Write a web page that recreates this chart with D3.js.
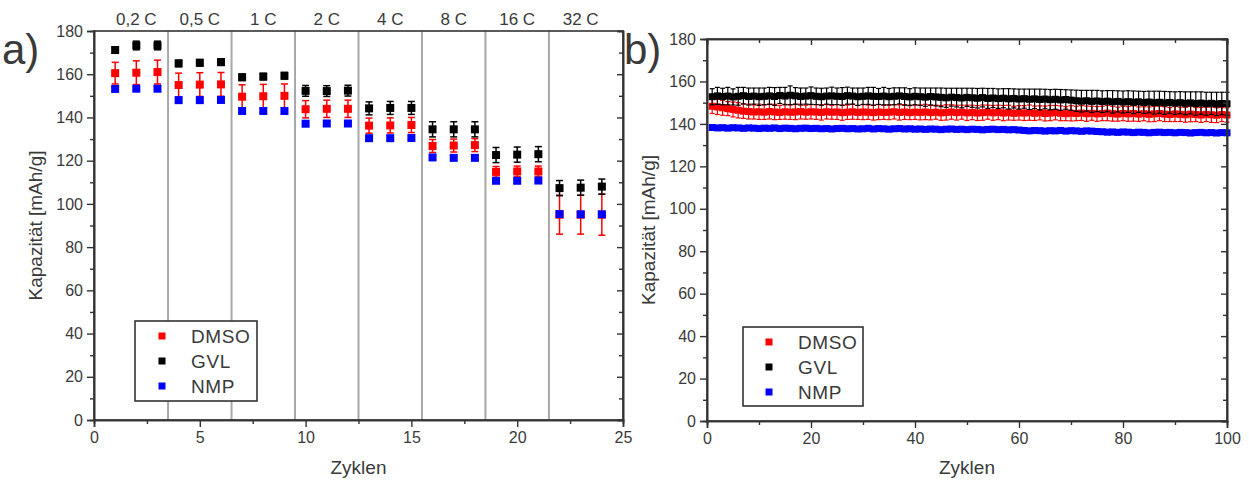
<!DOCTYPE html>
<html>
<head>
<meta charset="utf-8">
<script src="https://cdn.jsdelivr.net/npm/d3@7"></script>
<style>
  body { margin: 0; background: #fff; }
  text { font-family: "Liberation Sans", Arial, sans-serif; fill: #3a3a3a; }
</style>
</head>
<body>
<svg id="chart" width="1249" height="484"></svg>
<script>
// ---------- Panel a: rate capability ----------
const rateCycles = d3.range(1, 25);
const rateLabels = ["0,2 C", "0,5 C", "1 C", "2 C", "4 C", "8 C", "16 C", "32 C"];
const rateDMSO = [160.5, 160.7, 161.0, 155.0, 155.2, 155.3, 149.6, 149.8, 150.0, 143.8, 144.0, 144.0,
                  136.2, 136.3, 136.5, 126.8, 127.0, 127.2, 114.8, 115.0, 115.0, 95.0, 95.0, 95.0];
const rateDMSOErr = [5.0, 5.5, 5.5, 5.5, 5.5, 5.5, 5.5, 5.5, 5.5, 4.0, 4.0, 4.0,
                     3.5, 3.5, 3.5, 3.0, 3.0, 3.0, 2.5, 2.5, 2.5, 9.0, 9.0, 9.5];
const rateGVL = [171.2, 173.3, 173.3, 165.0, 165.3, 165.6, 158.6, 158.9, 159.3, 152.3, 152.2, 152.4,
                 144.2, 144.4, 144.4, 134.5, 134.5, 134.5, 122.6, 122.8, 123.0, 107.3, 107.5, 108.0];
const rateGVLErr = [1.5, 2.0, 2.0, 1.5, 1.5, 1.5, 1.5, 1.5, 1.5, 2.5, 2.5, 2.5,
                    3.0, 3.0, 3.0, 3.5, 3.5, 3.5, 3.5, 3.5, 3.5, 3.5, 3.5, 3.5];
const rateNMP = [153.2, 153.3, 153.3, 148.0, 148.0, 148.1, 143.0, 143.0, 143.0, 137.1, 137.2, 137.2,
                 130.4, 130.4, 130.5, 121.5, 121.3, 121.3, 110.7, 110.7, 110.8, 95.3, 95.2, 95.2];
const rateNMPErr = [1.0, 1.0, 1.0, 1.0, 1.0, 1.0, 1.0, 1.0, 1.0, 1.0, 1.0, 1.0,
                    1.0, 1.0, 1.0, 1.0, 1.0, 1.0, 1.0, 1.0, 1.0, 1.0, 1.0, 1.0];

// ---------- Panel b: long-term cycling ----------
const cycles = d3.range(1, 101);
const cycDMSO = [148.3, 148.0, 147.6, 147.2, 146.8, 146.4, 146.0,
  145.8, 145.6, 145.7, 145.5, 145.8, 145.6, 145.4, 145.7, 145.5, 145.6, 145.8, 145.5, 145.7,
  145.6, 145.4, 145.7, 145.5, 145.6, 145.3, 145.5, 145.7, 145.4, 145.6, 145.5, 145.3, 145.6, 145.4, 145.5, 145.7, 145.4, 145.6, 145.3, 145.5,
  145.4, 145.6, 145.3, 145.5, 145.2, 145.4, 145.6, 145.3, 145.5, 145.2, 145.4, 145.1, 145.3, 145.5, 145.2, 145.4, 145.1, 145.3, 145.0, 145.2,
  145.1, 145.3, 145.0, 145.2, 144.9, 145.1, 145.3, 145.0, 144.8, 145.0, 144.9, 145.1, 144.8, 145.0, 144.7, 144.9, 145.1, 144.8, 144.6, 144.9,
  144.7, 144.9, 144.6, 144.8, 144.5, 144.7, 144.9, 144.6, 144.4, 144.7, 144.5, 144.3, 144.6, 144.4, 144.2, 144.5, 144.3, 144.1, 144.4, 144.2];
const cycDMSOErr = [3.4, 3.6, 3.5, 3.3, 3.5, 3.6, 3.4, 3.5, 3.3, 3.6, 3.4, 3.5, 3.6, 3.3, 3.5, 3.4, 3.6, 3.5, 3.3, 3.4,
  3.5, 3.6, 3.4, 3.3, 3.5, 3.6, 3.4, 3.5, 3.3, 3.6, 3.4, 3.5, 3.6, 3.3, 3.5, 3.4, 3.6, 3.5, 3.3, 3.4,
  3.5, 3.6, 3.4, 3.3, 3.5, 3.6, 3.4, 3.5, 3.3, 3.6, 3.4, 3.5, 3.6, 3.3, 3.5, 3.4, 3.6, 3.5, 3.3, 3.4,
  3.5, 3.6, 3.4, 3.3, 3.5, 3.6, 3.4, 3.5, 3.3, 3.6, 3.4, 3.5, 3.6, 3.3, 3.5, 3.4, 3.6, 3.5, 3.3, 3.4,
  3.5, 3.6, 3.4, 3.3, 3.5, 3.6, 3.4, 3.5, 3.3, 3.6, 3.4, 3.5, 3.6, 3.3, 3.5, 3.4, 3.6, 3.5, 3.3, 3.4];
const cycGVL = [152.8, 153.2, 152.9, 153.1, 152.7, 153.0, 153.3, 152.9, 153.1, 152.8,
  153.0, 153.2, 152.9, 153.4, 153.1, 153.5, 153.2, 152.9, 153.1, 153.3,
  153.0, 152.8, 153.1, 153.2, 153.0, 152.9, 153.3, 153.1, 152.8, 153.0,
  153.2, 153.0, 152.9, 153.1, 152.8, 153.0, 153.2, 152.9, 152.7, 153.0,
  152.8, 152.6, 152.9, 152.7, 152.5, 152.3, 152.6, 152.4, 152.2, 152.5,
  152.3, 152.1, 152.4, 152.0, 152.2, 151.9, 152.1, 151.8, 152.0, 151.7,
  151.9, 151.6, 151.8, 151.5, 151.7, 151.4, 151.6, 151.3, 151.5, 151.2,
  150.9, 150.7, 150.9, 150.6, 150.8, 150.5, 150.7, 150.4, 150.6, 150.3,
  150.5, 150.2, 150.4, 150.1, 150.3, 150.0, 150.2, 149.9, 150.1, 149.8,
  150.0, 149.7, 149.9, 149.6, 149.8, 149.5, 149.7, 149.4, 149.6, 149.5];
const cycGVLErr = [3.8, 4.0, 3.9, 4.1, 3.8, 4.2, 3.9, 4.0, 3.8, 4.1, 3.9, 4.0, 4.2, 3.8, 4.1, 4.4, 3.9, 4.0, 3.8, 4.1,
  3.9, 4.0, 3.8, 4.1, 3.9, 4.2, 4.0, 3.8, 4.1, 3.9, 4.0, 4.2, 3.8, 4.1, 3.9, 4.0, 3.8, 4.1, 3.9, 4.0,
  4.1, 4.3, 4.0, 4.2, 4.4, 4.5, 4.2, 4.4, 4.6, 4.3, 4.5, 4.6, 4.4, 4.7, 4.5, 4.6, 4.5, 4.8, 4.5, 4.7,
  4.5, 4.8, 4.6, 4.9, 4.6, 4.8, 4.7, 4.9, 4.6, 4.8, 5.0, 5.1, 4.9, 5.2, 5.0, 5.1, 5.0, 5.3, 5.0, 5.2,
  5.1, 5.3, 5.0, 5.2, 5.1, 5.4, 5.2, 5.4, 5.1, 5.3, 5.2, 5.4, 5.2, 5.5, 5.3, 5.4, 5.2, 5.5, 5.3, 5.4];
const cycNMP = [138.3, 138.1, 138.2, 138.0, 138.2, 138.1, 137.9, 138.1, 138.0, 137.8, 138.0, 137.9, 138.1, 137.8, 138.0, 137.9, 137.7, 137.9, 138.0, 137.8,
  137.9, 137.7, 137.8, 137.6, 137.8, 137.9, 137.7, 137.8, 137.6, 137.7, 137.9, 137.6, 137.8, 137.7, 137.5, 137.7, 137.8, 137.6, 137.7, 137.5,
  137.6, 137.4, 137.6, 137.5, 137.3, 137.5, 137.6, 137.4, 137.5, 137.3, 137.5, 137.4, 137.2, 137.4, 137.5, 137.3, 137.4, 137.2, 137.3, 137.1,
  136.9, 136.7, 136.9, 136.8, 136.6, 136.8, 136.7, 136.9, 136.6, 136.8, 136.7, 136.5, 136.7, 136.6, 136.4, 136.3, 136.1, 136.2, 136.0, 136.2,
  136.1, 135.9, 136.1, 136.0, 135.8, 136.0, 136.1, 135.9, 136.0, 135.8, 136.0, 135.9, 135.7, 135.9, 136.0, 135.8, 135.9, 135.7, 135.9, 135.8];
const cycNMPErr = [1.0, 0.9, 1.1, 1.0, 0.9, 1.0, 1.1, 1.0, 0.9, 1.0, 1.0, 0.9, 1.1, 1.0, 0.9, 1.0, 1.1, 1.0, 0.9, 1.0,
  1.0, 0.9, 1.1, 1.0, 0.9, 1.0, 1.1, 1.0, 0.9, 1.0, 1.0, 0.9, 1.1, 1.0, 0.9, 1.0, 1.1, 1.0, 0.9, 1.0,
  1.0, 0.9, 1.1, 1.0, 0.9, 1.0, 1.1, 1.0, 0.9, 1.0, 1.0, 0.9, 1.1, 1.0, 0.9, 1.0, 1.1, 1.0, 0.9, 1.0,
  1.0, 0.9, 1.1, 1.0, 0.9, 1.0, 1.1, 1.0, 0.9, 1.0, 1.0, 0.9, 1.1, 1.0, 0.9, 1.0, 1.1, 1.0, 0.9, 1.0,
  1.0, 0.9, 1.1, 1.0, 0.9, 1.0, 1.1, 1.0, 0.9, 1.0, 1.0, 0.9, 1.1, 1.0, 0.9, 1.0, 1.1, 1.0, 0.9, 1.0];

const seriesNames = ["DMSO", "GVL", "NMP"];
const seriesColors = ["#ff0000", "#000000", "#0000ff"];
const yTicksMajor = [0, 20, 40, 60, 80, 100, 120, 140, 160, 180];
const yTicksMinor = [10, 30, 50, 70, 90, 110, 130, 150, 170];
const xTicksA = [0, 5, 10, 15, 20, 25];
const xTicksAMinor = [2.5, 7.5, 12.5, 17.5, 22.5];
const xTicksB = [0, 20, 40, 60, 80, 100];
const xTicksBMinor = [10, 30, 50, 70, 90];
const rateBoundaries = [3.5, 6.5, 9.5, 12.5, 15.5, 18.5, 21.5];
const rateCenters = [2, 5, 8, 11, 14, 17, 20, 23];

const svg = d3.select("#chart");
const axisColor = "#333";
const font = '"Liberation Sans", Arial, sans-serif';

function styleAxis(g) {
  g.selectAll("path.domain").attr("stroke", axisColor).attr("stroke-width", 1.6);
  g.selectAll(".tick line").attr("stroke", axisColor).attr("stroke-width", 1.4);
  g.selectAll(".tick text").attr("fill", "#3a3a3a")
    .style("font-family", font).style("font-size", "16px");
}

function drawPanel(cfg) {
  const x = d3.scaleLinear().domain(cfg.xDomain).range([cfg.left, cfg.right]);
  const y = d3.scaleLinear().domain([0, 180]).range([cfg.bottom, cfg.top]);
  const g = svg.append("g");

  // vertical separators between C-rate steps
  if (cfg.separators) {
    g.selectAll("line.sep").data(cfg.separators).join("line")
      .attr("x1", d => x(d)).attr("x2", d => x(d))
      .attr("y1", y(180)).attr("y2", y(0))
      .attr("stroke", "#a8a8a8").attr("stroke-width", 2);
  }

  // series: error bars then markers
  cfg.series.forEach((s, si) => {
    const pts = cfg.xs.map((c, i) => ({ c, v: s.values[i], e: s.errs[i] }));
    const col = seriesColors[si];
    const eg = g.append("g").attr("stroke", col).attr("stroke-width", cfg.errWidth);
    eg.selectAll("line.v").data(pts).join("line")
      .attr("x1", d => x(d.c)).attr("x2", d => x(d.c))
      .attr("y1", d => y(d.v - d.e)).attr("y2", d => y(d.v + d.e));
    [-1, 1].forEach(sign => {
      eg.selectAll("line.cap" + sign).data(pts).join("line")
        .attr("x1", d => x(d.c) - cfg.capW / 2).attr("x2", d => x(d.c) + cfg.capW / 2)
        .attr("y1", d => y(d.v + sign * d.e)).attr("y2", d => y(d.v + sign * d.e));
    });
    g.append("g").selectAll("rect").data(pts).join("rect")
      .attr("x", d => x(d.c) - cfg.marker / 2).attr("y", d => y(d.v) - cfg.marker / 2)
      .attr("width", cfg.marker).attr("height", cfg.marker).attr("fill", col);
  });

  // frame
  g.append("rect").attr("x", cfg.left).attr("y", cfg.top)
    .attr("width", cfg.right - cfg.left).attr("height", cfg.bottom - cfg.top)
    .attr("fill", "none").attr("stroke", axisColor).attr("stroke-width", 1.6);

  // bottom axis
  g.append("g").attr("transform", `translate(0,${cfg.bottom})`)
    .call(d3.axisBottom(x).tickValues(cfg.xMinor).tickSize(4).tickFormat(""))
    .call(styleAxis);
  g.append("g").attr("transform", `translate(0,${cfg.bottom})`)
    .call(d3.axisBottom(x).tickValues(cfg.xMajor).tickSize(7).tickPadding(5).tickFormat(d3.format("d")))
    .call(styleAxis);
  // left axis
  g.append("g").attr("transform", `translate(${cfg.left},0)`)
    .call(d3.axisLeft(y).tickValues(yTicksMinor).tickSize(4).tickFormat(""))
    .call(styleAxis);
  g.append("g").attr("transform", `translate(${cfg.left},0)`)
    .call(d3.axisLeft(y).tickValues(yTicksMajor).tickSize(7).tickPadding(4).tickFormat(d3.format("d")))
    .call(styleAxis);
  // right side inward ticks
  g.append("g").attr("transform", `translate(${cfg.right},0)`)
    .call(d3.axisLeft(y).tickValues(yTicksMinor).tickSize(4).tickFormat(""))
    .call(styleAxis);
  g.append("g").attr("transform", `translate(${cfg.right},0)`)
    .call(d3.axisLeft(y).tickValues(yTicksMajor).tickSize(6).tickFormat(""))
    .call(styleAxis);
  // top inward ticks
  if (cfg.topTicks) {
    g.append("g").attr("transform", `translate(0,${cfg.top})`)
      .call(d3.axisBottom(x).tickValues(cfg.xMinor).tickSize(4).tickFormat(""))
      .call(styleAxis);
    g.append("g").attr("transform", `translate(0,${cfg.top})`)
      .call(d3.axisBottom(x).tickValues(cfg.xMajor).tickSize(6).tickFormat(""))
      .call(styleAxis);
  }

  // C-rate labels above the frame
  if (cfg.topLabels) {
    g.selectAll("text.rate").data(cfg.topLabels).join("text")
      .attr("x", (d, i) => x(rateCenters[i])).attr("y", cfg.top - 6)
      .attr("text-anchor", "middle").style("font-size", "17px")
      .text(d => d);
  }

  // axis titles
  g.append("text").attr("x", (cfg.left + cfg.right) / 2).attr("y", 474)
    .attr("text-anchor", "middle").style("font-size", "19px").text("Zyklen");
  g.append("text")
    .attr("transform", `translate(${cfg.yTitleX},${(cfg.top + cfg.bottom) / 2}) rotate(-90)`)
    .attr("text-anchor", "middle").style("font-size", "19px").text("Kapazität [mAh/g]");

  // panel letter
  g.append("text").attr("x", cfg.letterX).attr("y", 64)
    .style("font-size", "42px").attr("fill", "#111").text(cfg.letter);

  // legend
  const lg = g.append("g");
  lg.append("rect").attr("x", cfg.legend.x).attr("y", cfg.legend.y)
    .attr("width", cfg.legend.w).attr("height", cfg.legend.h)
    .attr("fill", "#fff").attr("stroke", axisColor).attr("stroke-width", 1.6);
  seriesNames.forEach((n, i) => {
    const cy = cfg.legend.y + 15 + i * 25;
    lg.append("rect").attr("x", cfg.legend.x + cfg.legend.mx - 3.5).attr("y", cy - 3.5)
      .attr("width", 7).attr("height", 7).attr("fill", seriesColors[i]);
    lg.append("text").attr("x", cfg.legend.x + cfg.legend.tx).attr("y", cy + 7)
      .style("font-size", "19px").style("letter-spacing", "0.6px").text(n);
  });
}

drawPanel({
  left: 94, right: 623, top: 31, bottom: 420, xDomain: [0, 25],
  xs: rateCycles,
  series: [
    { values: rateDMSO, errs: rateDMSOErr },
    { values: rateGVL, errs: rateGVLErr },
    { values: rateNMP, errs: rateNMPErr }
  ],
  marker: 8, capW: 7, errWidth: 1.5,
  separators: rateBoundaries, topLabels: rateLabels, topTicks: false,
  xMajor: xTicksA, xMinor: xTicksAMinor,
  yTitleX: 42, letter: "a)", letterX: 2,
  legend: { x: 135, y: 321, w: 122, h: 80, mx: 27, tx: 56 }
});

drawPanel({
  left: 707, right: 1227, top: 39, bottom: 421, xDomain: [0, 100],
  xs: cycles,
  series: [
    { values: cycDMSO, errs: cycDMSOErr },
    { values: cycGVL, errs: cycGVLErr },
    { values: cycNMP, errs: cycNMPErr }
  ],
  marker: 7, capW: 5, errWidth: 1.2,
  separators: null, topLabels: null, topTicks: true,
  xMajor: xTicksB, xMinor: xTicksBMinor,
  yTitleX: 655, letter: "b)", letterX: 624,
  legend: { x: 743, y: 327, w: 120, h: 79, mx: 26, tx: 55 }
});
</script>
</body>
</html>
